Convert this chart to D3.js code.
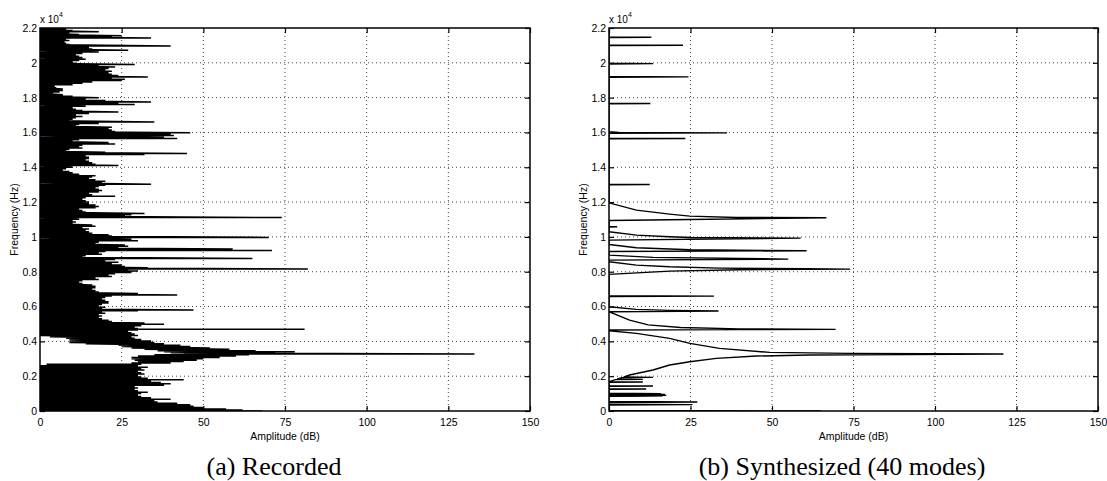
<!DOCTYPE html>
<html>
<head>
<meta charset="utf-8">
<script src="https://cdn.jsdelivr.net/npm/d3@7/dist/d3.min.js"></script>
<style>
  body { margin: 0; background: #fff; }
  svg text { font-family: "Liberation Sans", Arial, Helvetica, sans-serif; }
</style>
</head>
<body>
<div id="chart"></div>
<script>
// tick values
const ampTicks = [0, 25, 50, 75, 100, 125, 150];
const freqTicks = [0, 2000, 4000, 6000, 8000, 10000, 12000, 14000, 16000, 18000, 20000, 22000];
const captions = ["(a) Recorded", "(b) Synthesized (40 modes)"];

// recorded spectrum: [Hz, low dB, high dB] per row
const recRows = [
  [0,0,68],[60,0,62],[120,0,57],[200,0,50],[280,0,47],[360,0,46],[440,0,42],[520,0,36],[600,0,35],[680,0,40],
  [760,0,34],[840,0,31],[920,0,30],[1000,0,31],[1080,0,33],[1160,0,30],[1240,0,29],[1320,0,30],[1400,0,29],[1480,0,38],
  [1560,0,40],[1640,0,37],[1720,0,34],[1800,0,44],[1880,0,33],[1960,0,31],[2040,0,30],[2120,0,32],[2200,0,31],[2280,0,30],
  [2360,0,32],[2440,0,31],[2520,0,33],[2600,0,30],[2680,2,31],[2760,28,40],[2840,30,44],[2920,29,48],[3000,28,50],[3080,28,55],
  [3160,30,60],[3230,35,64],[3280,44,133],[3340,40,72],[3400,38,78],[3460,36,66],[3540,32,58],[3620,28,52],[3700,25,46],[3780,24,43],
  [3860,14,38],[3940,9,35],[4020,9,34],[4100,9,31],[4180,8,29],[4260,3,28],[4340,0,30],[4420,0,29],[4500,0,28],[4580,0,27],
  [4650,0,30],[4690,0,81],[4740,0,30],[4820,0,29],[4900,0,31],[4990,0,38],[5060,0,32],[5140,0,22],[5220,0,21],[5300,0,19],
  [5380,0,18],[5460,0,19],[5540,0,18],[5620,0,20],[5700,0,19],[5760,0,30],[5800,0,47],[5880,0,19],[5960,0,20],[6040,0,18],
  [6120,0,19],[6200,0,21],[6280,0,21],[6360,0,20],[6440,0,19],[6520,0,20],[6600,0,22],[6660,0,42],[6750,0,30],[6840,0,18],
  [6920,0,17],[7000,0,16],[7080,0,17],[7160,0,17],[7240,0,16],[7320,0,13],[7400,0,12],[7480,0,13],[7560,0,18],[7640,0,17],
  [7720,0,22],[7800,0,21],[7880,0,23],[7960,0,28],[8040,0,30],[8100,0,27],[8160,0,82],[8230,0,33],[8300,0,26],[8380,0,25],
  [8460,0,22],[8540,0,24],[8620,0,20],[8700,0,23],[8760,0,65],[8840,0,13],[8920,0,14],[9000,0,19],[9080,0,18],[9160,0,20],
  [9220,0,71],[9300,0,59],[9380,0,24],[9460,0,27],[9540,0,26],[9620,0,17],[9700,0,18],[9780,0,30],[9860,0,28],[9970,0,70],
  [10050,0,22],[10130,0,21],[10210,0,16],[10290,0,15],[10370,0,14],[10450,0,15],[10530,0,13],[10610,0,17],[10690,0,16],[10770,0,10],
  [10850,0,11],[10930,0,10],[11020,0,12],[11110,0,74],[11200,0,26],[11280,0,28],[11350,0,32],[11430,0,14],[11510,0,13],[11590,0,12],
  [11670,0,17],[11750,0,18],[11830,0,17],[11910,0,15],[12000,0,15],[12080,0,14],[12160,0,13],[12250,0,14],[12340,0,23],[12420,0,16],
  [12500,0,15],[12580,0,18],[12660,0,19],[12740,0,18],[12820,0,17],[12900,0,18],[12970,0,20],[13030,0,34],[13120,0,19],[13200,0,20],
  [13280,0,17],[13360,0,15],[13440,0,16],[13520,0,17],[13600,0,12],[13680,0,10],[13760,0,9],[13840,0,7],[13920,0,8],[14000,0,10],
  [14100,0,24],[14180,0,17],[14260,0,16],[14340,0,15],[14420,0,14],[14500,0,15],[14580,0,15],[14660,0,14],[14740,0,32],[14790,0,45],
  [14860,0,20],[14940,0,8],[15020,0,9],[15100,0,13],[15180,0,12],[15260,0,13],[15340,0,23],[15420,0,21],[15500,0,10],[15580,0,12],
  [15650,0,42],[15730,0,38],[15820,0,41],[15900,0,40],[15990,0,46],[16060,0,23],[16140,0,22],[16220,0,21],[16300,0,22],[16380,0,11],
  [16460,0,12],[16520,0,18],[16600,0,35],[16680,0,9],[16760,0,10],[16840,0,11],[16920,0,13],[17000,0,11],[17090,0,15],[17180,0,24],
  [17260,0,13],[17340,0,11],[17420,0,10],[17500,0,14],[17600,0,29],[17680,0,24],[17755,0,34],[17840,0,20],[17920,0,14],[17990,0,18],
  [18080,0,10],[18160,0,7],[18250,0,4],[18330,0,6],[18410,0,7],[18490,0,7],[18570,0,5],[18650,0,4.5],[18740,0,10],[18820,0,13],
  [18900,0,16],[18980,0,25],[19060,0,26],[19130,0,22],[19190,0,33],[19270,0,24],[19350,0,22],[19430,0,21],[19510,0,22],[19590,0,20],
  [19680,0,21],[19760,0,23],[19840,0,18],[19900,0,29],[19980,0,11],[20050,0,10],[20130,0,12],[20210,0,14],[20300,0,13],[20380,0,12],
  [20460,0,11],[20530,0,13],[20620,0,18],[20720,0,27],[20800,0,16],[20880,0,15],[20970,0,40],[21050,0,9],[21130,0,8],[21200,0,7.5],
  [21280,0,9],[21360,0,8],[21430,0,34],[21500,0,22],[21560,0,25],[21630,0,12],[21700,0,9],[21780,0,18],[21860,0,10],[21940,0,8],
  [22000,0,8]
];

// synthesized spectrum: [Hz, dB]
const synPoints = [
  [0,65],[30,0],[340,0],[364,25.6],[390,0],[490,0],[517,27.1],[545,0],
  [840,0],[860,16.5],[880,0],[900,17.6],[925,0],[950,17.2],[975,0],[995,16],[1020,0],
  [1240,0],[1263,11.4],[1285,0],[1415,0],[1435,13.5],[1455,0],[1645,0],[1665,10.4],[1685,0],
  [1800,2],[1818,10.4],[1836,2.5],[1915,4],[1933,13.5],[1950,4.5],[2066,6.3],[2353,13.5],[2640,18.6],
  [2832,24.8],[3023,32.9],[3157,45.2],[3214,61.6],[3272,121],[3310,73.8],[3367,49.3],[3597,33.9],
  [3884,24.8],[4170,18.6],[4457,8.4],[4610,0],[4650,0],[4675,40],[4690,69.5],[4720,40],[4800,22],
  [4950,12],[5223,6.3],[5700,0],[5740,33.6],[5779,18.6],[5836,8.4],[5989,0],
  [6575,0],[6600,32.2],[6625,0],
  [7845,0],[8036,18.6],[8110,40],[8151,74],[8170,60.6],[8208,33.9],[8284,18.6],[8380,8.4],[8572,0],
  [8667,0],[8725,55],[8822,13.5],[8954,0],
  [9166,0],[9203,60.6],[9260,24.8],[9375,8.4],[9567,0],
  [9815,0],[9930,58.8],[9968,24.8],[10007,18.6],[10102,8.4],[10294,0],
  [10560,0],[10580,2.5],[10600,0],
  [10944,0],[11001,24.8],[11097,66.7],[11117,39.1],[11193,24.8],[11308,18.6],[11537,8.4],[11958,0],
  [12990,0],[13010,12.5],[13030,0],
  [15630,0],[15650,23.4],[15670,0],[15950,0],[15975,36.2],[16000,3],[16050,0],
  [17640,0],[17660,12.7],[17680,0],[19170,0],[19190,24.4],[19210,0],
  [19936,0],[19956,13.5],[19976,0],[20988,0],[21008,22.7],[21028,0],
  [21448,0],[21468,13],[21488,0],[22000,0]
];

const width = 1107, height = 481;
const plotTop = 28, plotBottom = 411;
const panels = [
    { left: 40, right: 530, captionX: 274, lineWidth: 1.5 },
    { left: 609, right: 1098, captionX: 842, lineWidth: 1.4 }
];

const svg = d3.select("#chart").append("svg")
    .attr("width", width)
    .attr("height", height);

// recorded rows become a zigzag line: low end then high end of each row
let recPoints = [];
recRows.forEach(function(r) {
    recPoints.push([r[1], r[0]]);
    recPoints.push([r[2], r[0]]);
});
let synLine = synPoints.map(d => [d[1], d[0]]);

function drawPanel(p, points, caption, idx) {
    let x = d3.scaleLinear().domain([0, 150]).range([p.left, p.right]);
    let y = d3.scaleLinear().domain([0, 22000]).range([plotBottom, plotTop]);

    let g = svg.append("g");

    // dotted grid
    g.append("g").selectAll("line")
        .data(ampTicks.slice(1, -1))
        .join("line")
        .attr("x1", d => x(d)).attr("x2", d => x(d))
        .attr("y1", plotTop).attr("y2", plotBottom)
        .attr("stroke", "#444").attr("stroke-width", 1)
        .attr("stroke-dasharray", "1,3");

    g.append("g").selectAll("line")
        .data(freqTicks.slice(1, -1))
        .join("line")
        .attr("x1", p.left).attr("x2", p.right)
        .attr("y1", d => y(d)).attr("y2", d => y(d))
        .attr("stroke", "#444").attr("stroke-width", 1)
        .attr("stroke-dasharray", "1,3");

    // spectrum line, clipped to the axes box
    g.append("clipPath").attr("id", "clip" + idx)
        .append("rect")
        .attr("x", p.left).attr("y", plotTop)
        .attr("width", p.right - p.left).attr("height", plotBottom - plotTop);

    g.append("path")
        .datum(points)
        .attr("clip-path", `url(#clip${idx})`)
        .attr("fill", "none")
        .attr("stroke", "#000")
        .attr("stroke-width", p.lineWidth)
        .attr("d", d3.line().x(d => x(d[0])).y(d => y(d[1])));

    // axes, ticks pointing inward
    let bottomAxis = g.append("g")
        .attr("transform", `translate(0, ${plotBottom})`)
        .call(d3.axisBottom(x).tickValues(ampTicks).tickSizeInner(-5).tickSizeOuter(0).tickPadding(8));
    let topAxis = g.append("g")
        .attr("transform", `translate(0, ${plotTop})`)
        .call(d3.axisTop(x).tickValues(ampTicks).tickSizeInner(-5).tickSizeOuter(0).tickFormat(""));
    let leftAxis = g.append("g")
        .attr("transform", `translate(${p.left}, 0)`)
        .call(d3.axisLeft(y).tickValues(freqTicks).tickSizeInner(-5).tickSizeOuter(0).tickPadding(3)
            .tickFormat(d => String(+(d / 1e4).toFixed(1))));
    let rightAxis = g.append("g")
        .attr("transform", `translate(${p.right}, 0)`)
        .call(d3.axisRight(y).tickValues(freqTicks).tickSizeInner(-5).tickSizeOuter(0).tickFormat(""));

    [bottomAxis, topAxis, leftAxis, rightAxis].forEach(function(a) {
        a.select(".domain").remove();
        a.selectAll("line").attr("stroke", "#000").attr("stroke-width", 1.2);
        a.selectAll("text")
            .attr("fill", "#000")
            .style("font-size", "10.5px")
            .style("font-family", '"Liberation Sans", Arial, sans-serif');
    });

    // axes box
    g.append("rect")
        .attr("x", p.left).attr("y", plotTop)
        .attr("width", p.right - p.left).attr("height", plotBottom - plotTop)
        .attr("fill", "none").attr("stroke", "#000").attr("stroke-width", 1.5);

    // exponent label
    let expo = g.append("text")
        .attr("x", p.left).attr("y", 23)
        .style("font-size", "10px");
    expo.append("tspan").text("x 10");
    expo.append("tspan").attr("dy", -6).style("font-size", "7px").text("4");

    // axis titles
    g.append("text")
        .attr("transform", `translate(${p.left - 22}, ${(plotTop + plotBottom) / 2}) rotate(-90)`)
        .style("text-anchor", "middle")
        .style("font-size", "10.5px")
        .text("Frequency (Hz)");

    g.append("text")
        .attr("x", (p.left + p.right) / 2).attr("y", 440)
        .style("text-anchor", "middle")
        .style("font-size", "10.5px")
        .text("Amplitude (dB)");

    g.append("text")
        .attr("x", p.captionX).attr("y", 475)
        .style("text-anchor", "middle")
        .style("font-family", '"Liberation Serif", "Times New Roman", serif')
        .style("font-size", "26px")
        .text(caption);
}

drawPanel(panels[0], recPoints, captions[0], 0);
drawPanel(panels[1], synLine, captions[1], 1);
</script>
</body>
</html>
